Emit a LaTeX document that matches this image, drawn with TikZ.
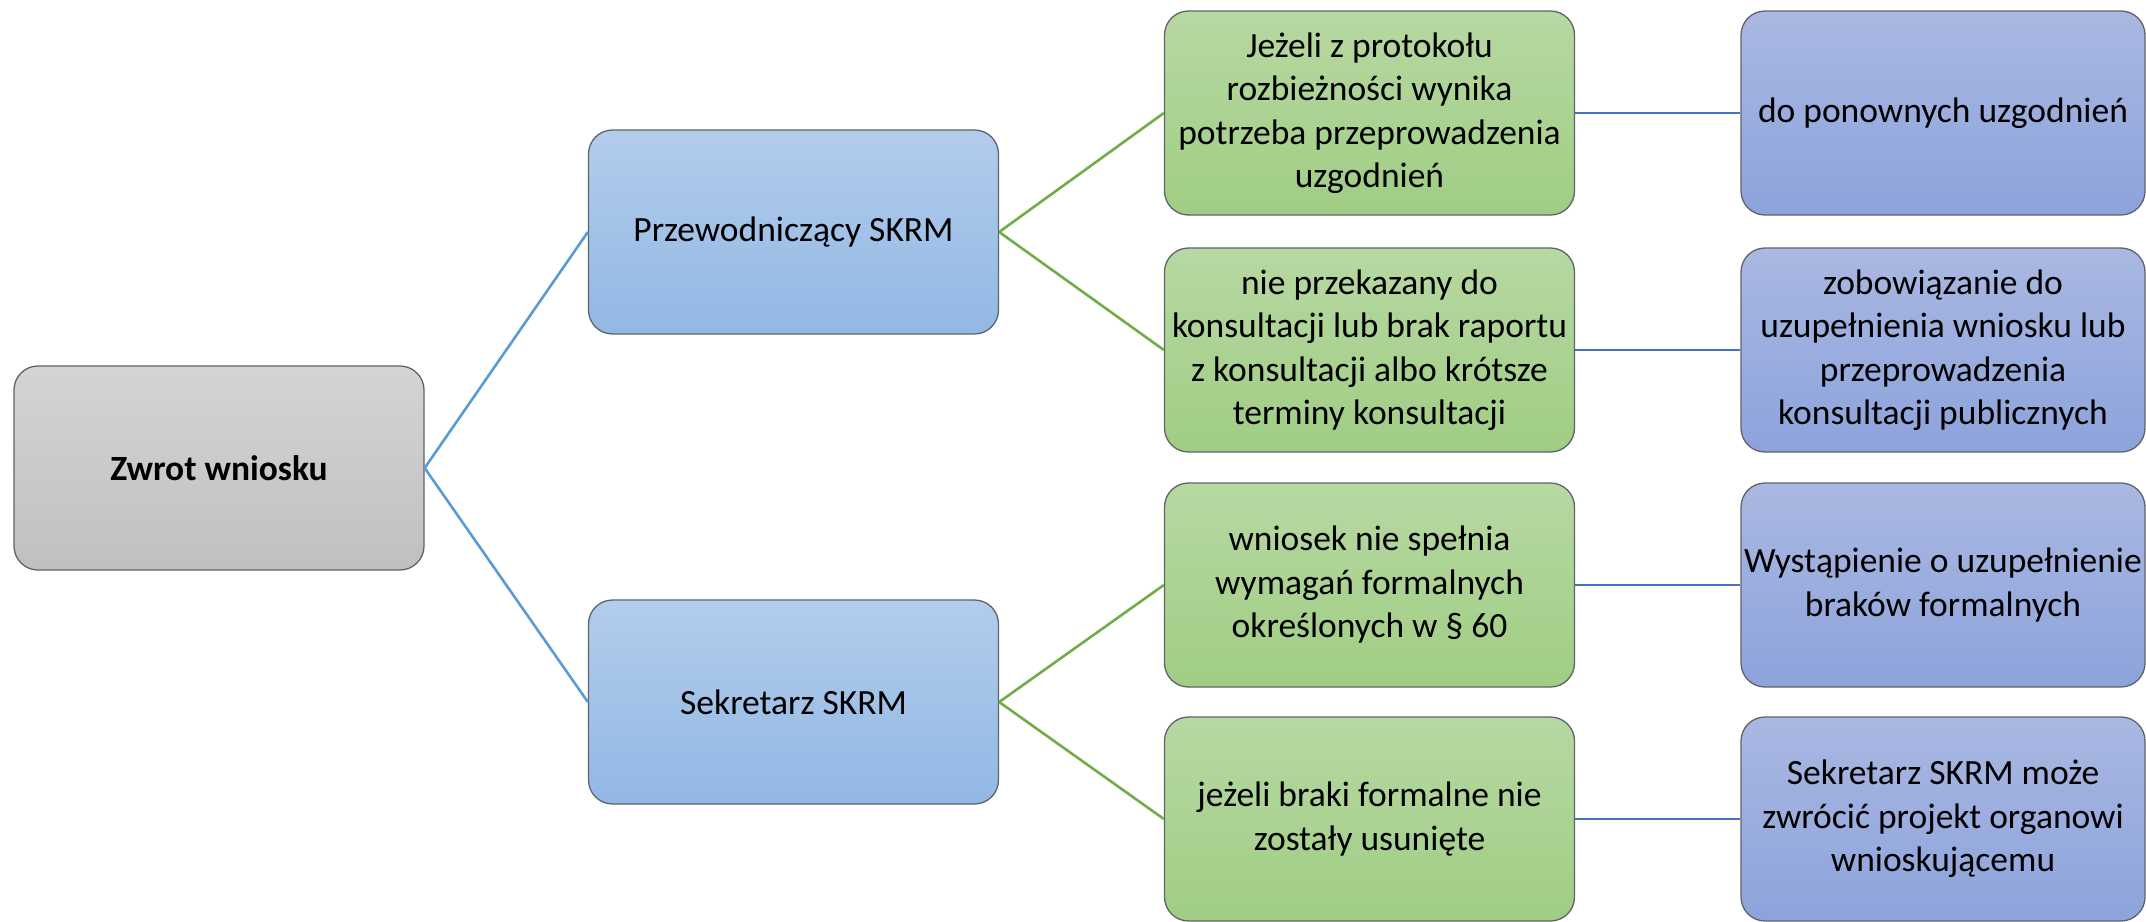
\documentclass[tikz,border=0pt]{standalone}
\usepackage{fontspec}
\setmainfont{Carlito}
\definecolor{grayT}{RGB}{212,212,212}
\definecolor{grayB}{RGB}{192,192,192}
\definecolor{blueT}{RGB}{178,204,236}
\definecolor{blueB}{RGB}{146,184,228}
\definecolor{greenT}{RGB}{183,216,162}
\definecolor{greenB}{RGB}{160,205,132}
\definecolor{purT}{RGB}{170,184,226}
\definecolor{purB}{RGB}{140,163,219}
\definecolor{edge}{RGB}{95,100,105}
\definecolor{lnblue}{RGB}{91,155,213}
\definecolor{lngreen}{RGB}{112,173,71}
\definecolor{lnblue2}{RGB}{68,114,196}
\begin{document}
\begin{tikzpicture}[x=1pt,y=-1pt,
  box/.style={draw=edge,line width=1.3pt,rounded corners=24pt,minimum width=410pt,minimum height=204pt,
    align=center,inner sep=2pt,font=\fontsize{35.5}{43.5}\selectfont},
  graybox/.style={box,top color=grayT,bottom color=grayB},
  bluebox/.style={box,top color=blueT,bottom color=blueB},
  greenbox/.style={box,top color=greenT,bottom color=greenB},
  purbox/.style={box,top color=purT,bottom color=purB,minimum width=404pt},
  cb/.style={draw=lnblue,line width=2.6pt},
  cg/.style={draw=lngreen,line width=2.6pt},
  cb2/.style={draw=lnblue2,line width=2.6pt}]
\useasboundingbox (0,0) rectangle (2146,921);
\node[graybox] (zw) at (219,468) {\textbf{Zwrot wniosku}};
\node[bluebox] (pr) at (793.5,232) {Przewodniczący SKRM};
\node[bluebox] (se) at (793.5,702) {Sekretarz SKRM};
\node[greenbox] (g1) at (1369.5,113) {Jeżeli z protokołu\\rozbieżności wynika\\potrzeba przeprowadzenia\\uzgodnień};
\node[greenbox] (g2) at (1369.5,350) {nie przekazany do\\konsultacji lub brak raportu\\z konsultacji albo krótsze\\terminy konsultacji};
\node[greenbox] (g3) at (1369.5,585) {wniosek nie spełnia\\wymagań formalnych\\określonych w § 60};
\node[greenbox] (g4) at (1369.5,819) {jeżeli braki formalne nie\\zostały usunięte};
\node[purbox] (p1) at (1943,113) {do ponownych uzgodnień};
\node[purbox] (p2) at (1943,350) {zobowiązanie do\\uzupełnienia wniosku lub\\przeprowadzenia\\konsultacji publicznych};
\node[purbox] (p3) at (1943,585) {Wystąpienie o uzupełnienie\\braków formalnych};
\node[purbox] (p4) at (1943,819) {Sekretarz SKRM może\\zwrócić projekt organowi\\wnioskującemu};
\draw[cb] (zw.east) -- (pr.west);
\draw[cb] (zw.east) -- (se.west);
\draw[cg] (pr.east) -- (g1.west);
\draw[cg] (pr.east) -- (g2.west);
\draw[cg] (se.east) -- (g3.west);
\draw[cg] (se.east) -- (g4.west);
\draw[cb2] (g1.east) -- (p1.west);
\draw[cb2] (g2.east) -- (p2.west);
\draw[cb2] (g3.east) -- (p3.west);
\draw[cb2] (g4.east) -- (p4.west);
\end{tikzpicture}
\end{document}
